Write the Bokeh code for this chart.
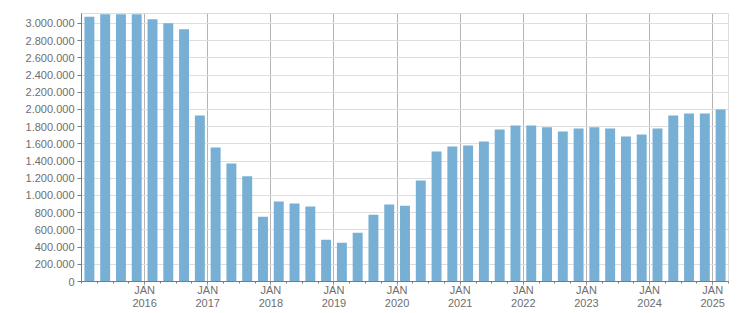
from bokeh.plotting import figure
from bokeh.models import Range1d, FixedTicker, ColumnDataSource
from bokeh.embed import file_html
from bokeh.resources import INLINE

# Quarterly data 2015 Q1 .. 2025 Q1
quarters = [f"{y}Q{q}" for y in range(2015, 2026) for q in range(1, 5)][:41]
values = [
    3077000, 3108000, 3108000, 3108000,
    3050000, 3003000, 2934000, 1931000,
    1558000, 1372000, 1224000, 754000,
    929000, 906000, 871000, 486000,
    451000, 568000, 777000, 894000,
    882000, 1174000, 1512000, 1570000,
    1582000, 1628000, 1768000, 1815000,
    1815000, 1792000, 1745000, 1780000,
    1792000, 1780000, 1686000, 1710000,
    1780000, 1931000, 1954000, 1954000,
    2001000,
]
year_labels = ["JAN\n2016", "JAN\n2017", "JAN\n2018", "JAN\n2019", "JAN\n2020",
               "JAN\n2021", "JAN\n2022", "JAN\n2023", "JAN\n2024", "JAN\n2025"]
year_positions = [4, 8, 12, 16, 20, 24, 28, 32, 36, 40]
y_tick_values = list(range(0, 3000001, 200000))
y_tick_labels = [f"{v:,}".replace(",", ".") for v in y_tick_values]

src = ColumnDataSource(dict(x=[i + 0.5 for i in range(len(values))], top=values, q=quarters))

p = figure(width=751, height=313, output_backend="svg", toolbar_location=None,
           x_range=Range1d(0, 41), y_range=Range1d(0, 3116000),
           min_border_left=81, min_border_right=23, min_border_top=13, min_border_bottom=32)
p.background_fill_color = "white"
p.border_fill_color = "white"
p.outline_line_color = "#dddddd"

p.vbar(x="x", top="top", width=0.63, source=src, fill_color="#77b0d4", line_color=None)

font = "Liberation Sans"
lab_col = "#6e6e6e"

xa = p.xaxis[0]
xa.ticker = FixedTicker(ticks=year_positions, minor_ticks=list(range(0, 42)))
xa.major_label_overrides = {pos: lab for pos, lab in zip(year_positions, year_labels)}
xa.major_label_text_font = font
xa.major_label_text_font_size = "11px"
xa.major_label_text_color = lab_col
xa.major_label_text_line_height = 1.15
xa.axis_line_color = "#7a7a7a"
xa.major_tick_line_color = "#b0b0b0"
xa.major_tick_out = 4
xa.major_tick_in = 0
xa.minor_tick_line_color = "#7a7a7a"
xa.minor_tick_out = 2
xa.minor_tick_in = 0
xa.major_label_standoff = -2

ya = p.yaxis[0]
ya.ticker = FixedTicker(ticks=y_tick_values)
ya.major_label_overrides = {v: l for v, l in zip(y_tick_values, y_tick_labels)}
ya.major_label_text_font = font
ya.major_label_text_font_size = "11px"
ya.major_label_text_color = lab_col
ya.axis_line_color = "#7a7a7a"
ya.major_tick_line_color = "#7a7a7a"
ya.major_tick_out = 4
ya.major_tick_in = 0
ya.minor_tick_line_color = None
ya.major_label_standoff = 3

p.xgrid.grid_line_color = "#b4b4b4"
p.ygrid.grid_line_color = "#dedede"

open("out.html", "w").write(file_html(p, INLINE))
